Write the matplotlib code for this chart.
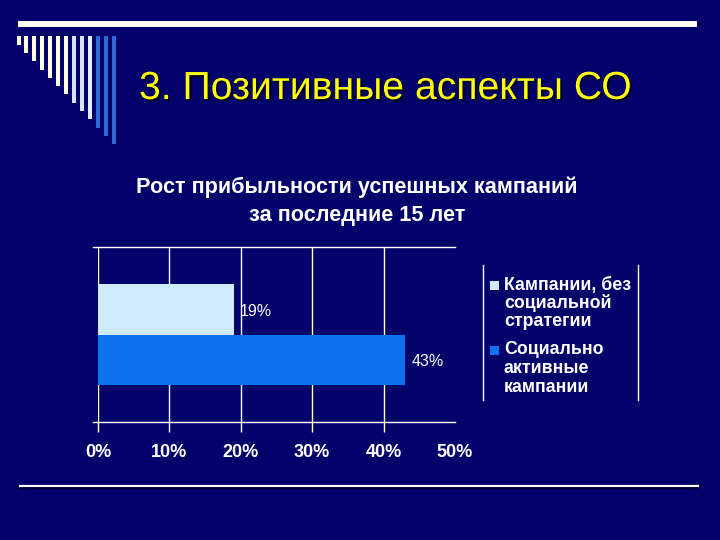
import matplotlib
matplotlib.use("Agg")
import matplotlib.pyplot as plt
import matplotlib.patheffects as pe
from matplotlib.patches import Rectangle

plt.rcParams['font.family'] = ['Liberation Sans', 'DejaVu Sans']

# data
series_names = ["Кампании, без\nсоциальной\nстратегии", "Социально\nактивные\nкампании"]
values = [19, 43]
bar_colors = ["#CDEBFA", "#0D72EE"]
x_ticks = [0, 10, 20, 30, 40, 50]
chart_title = ["Рост прибыльности успешных кампаний", "за последние 15 лет"]
slide_title = "3. Позитивные аспекты СО"

bg = "#02026A"
W, H = 720, 540

fig = plt.figure(figsize=(7.2, 5.4), dpi=100, facecolor=bg)

# overlay in pixel coordinates for slide decoration
deco = fig.add_axes([0, 0, 1, 1])
deco.set_xlim(0, W)
deco.set_ylim(H, 0)
deco.axis("off")
deco.patch.set_alpha(0)

# top thick line and bottom thin line
deco.add_patch(Rectangle((18, 21), 679, 6, color="white", lw=0))
deco.plot([20, 698], [486, 486], color="white", lw=1.6)
deco.plot([20, 698], [488, 488], color="#000030", lw=1.2)

# comb of vertical bars in the corner
comb_bottoms = [45, 53, 61, 70, 78, 86, 94, 103, 111, 119, 128, 136, 144]
comb_colors = ["#FFFFE0"] * 7 + ["#D8E0FA", "#D8E0FA", "#E4ECFF"] + ["#2A6AD8"] * 3
for i, (b, c) in enumerate(zip(comb_bottoms, comb_colors)):
    deco.add_patch(Rectangle((16.5 + i * 7.95, 36), 4, b - 36, color=c, lw=0))

# slide title (with a faint shadow like the slide)
deco.text(139, 89, slide_title, color="#FFFF00", fontsize=28.2, va="center", ha="left",
          path_effects=[pe.withSimplePatchShadow(offset=(1.5, -1.5), shadow_rgbFace="black",
                                                 alpha=0.6)])

# chart title
deco.text(357, 187, chart_title[0], color="white", fontsize=15.6, fontweight="bold",
          ha="center", va="center")
deco.text(357, 216, chart_title[1], color="white", fontsize=15.6, fontweight="bold",
          ha="center", va="center")

# chart axes
left, right, top, bottom = 98, 455, 247, 422
ax = fig.add_axes([left / W, 1 - bottom / H, (right - left) / W, (bottom - top) / H])
ax.set_facecolor("none")
ax.set_xlim(0, 50)
ax.set_ylim(1, 0)
for s in ax.spines.values():
    s.set_visible(False)

bar_h = 0.286
for i, (v, c) in enumerate(zip(values, bar_colors)):
    yc = 0.5 + (i - 0.5) * bar_h
    ax.barh(yc, v, height=bar_h, color=c, zorder=3)
    ax.text(v + 0.9, yc + 0.01, f"{v}%", color="white", fontsize=11.5,
            va="center", ha="left", zorder=4)

for t in x_ticks[:-1]:
    ax.axvline(t, color="white", lw=1, zorder=1)
ax.plot([-0.7, 50], [0, 0], color="white", lw=1, clip_on=False)
ax.plot([-0.7, 50], [1, 1], color="white", lw=1, clip_on=False)

ax.set_xticks(x_ticks)
ax.set_xticklabels([f"{t}%" for t in x_ticks], color="white", fontsize=13, fontweight="bold")
ax.tick_params(axis="x", colors="white", length=7, width=1, pad=9)
ax.xaxis.get_major_ticks()[-1].tick1line.set_visible(False)
ax.set_yticks([])

# legend box
deco.plot([483, 483], [265, 400], color="white", lw=1)
deco.plot([638, 638], [265, 400], color="white", lw=1)
leg_y = [285, 350]
for name, c, y in zip(series_names, bar_colors, leg_y):
    deco.add_patch(Rectangle((490, y - 4.5), 9, 9, color=c, lw=0))
    for k, line in enumerate(name.split("\n")):
        deco.text(504, y + k * 18.5, line, color="white", fontsize=12.8,
                  fontweight="bold", ha="left", va="center")

fig.savefig("out.png", dpi=100, facecolor=bg)
